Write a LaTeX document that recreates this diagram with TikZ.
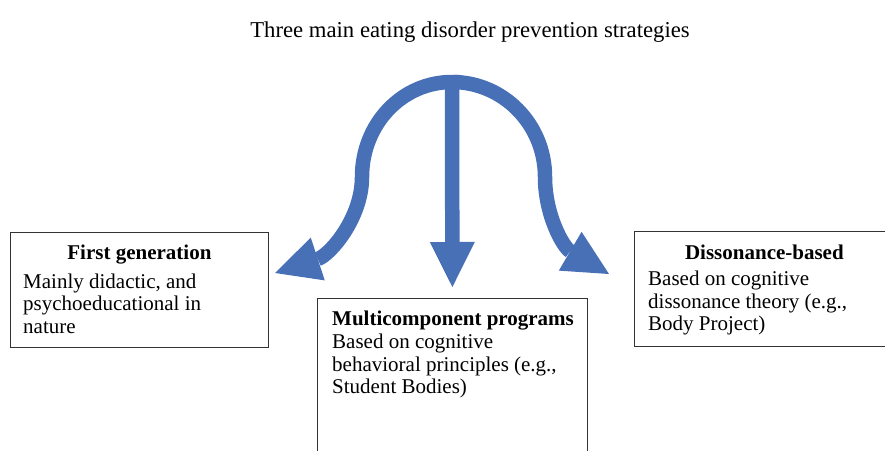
\documentclass[tikz,border=0pt]{standalone}
\usepackage{fontspec}
\setmainfont{Liberation Serif}
\usetikzlibrary{arrows.meta,positioning,calc}
\definecolor{stratblue}{RGB}{72,112,182}

\begin{document}
\begin{tikzpicture}[x=1pt, y=-1pt,
  stratbox/.style={draw=black!80, line width=0.8pt, anchor=north west, inner sep=0pt},
  boxhead/.style={font=\fontsize{21}{22.5}\selectfont\bfseries, inner sep=0pt},
  boxbody/.style={font=\fontsize{21}{22.5}\selectfont, align=left, anchor=north west, inner sep=0pt},
  bigarrow/.style={draw=stratblue, line width=14.5pt, -{Triangle[length=45pt, width=45pt, line width=0pt]}}]
  \useasboundingbox (0,0) rectangle (885,450);

  % heading
  \node (heading) [font=\fontsize{22.7}{27}\selectfont, anchor=base, inner sep=0pt] at (470,37) {Three main eating disorder prevention strategies};

  % the three strategy boxes
  \node (first) [stratbox, minimum width=258pt, minimum height=115pt] at (10,232) {};
  \node (firsthead) [boxhead, anchor=base] at ($(first.north)+(0,27)$) {First generation};
  \node (firstbody) [boxbody] at ($(first.north west)+(13,41.5)$) {Mainly didactic, and\\psychoeducational in\\nature};

  \node (multi) [stratbox, minimum width=270pt, minimum height=180pt] at (317,298) {};
  \node (multihead) [boxhead, anchor=base west] at ($(multi.north west)+(15,27)$) {Multicomponent programs};
  \node (multibody) [boxbody] at ($(multi.north west)+(15,36)$) {Based on cognitive\\behavioral principles (e.g.,\\Student Bodies)};

  \node (dissonance) [stratbox, minimum width=260pt, minimum height=115pt] at (634,231) {};
  \node (dissonancehead) [boxhead, anchor=base] at ($(dissonance.north)+(0,28)$) {Dissonance-based};
  \node (dissonancebody) [boxbody] at ($(dissonance.north west)+(14,40)$) {Based on cognitive\\dissonance theory (e.g.,\\Body Project)};

  % fork of arrows
  \coordinate (fork) at (452,82);
  \coordinate (forktop) at (452,75);
  \coordinate (lefttip) at (275,273);
  \coordinate (righttip) at (609,274);
  \draw[bigarrow] (fork) .. controls (402,82) and (362,124) .. (362,177) .. controls (362,218) and (330,255) .. (lefttip);
  \draw[bigarrow] (fork) .. controls (503,82) and (545,124) .. (545,177) .. controls (545,215) and (563,247) .. (righttip);
  \draw[bigarrow, shorten >=11pt] (forktop) -- (multi.north);
\end{tikzpicture}
\end{document}
